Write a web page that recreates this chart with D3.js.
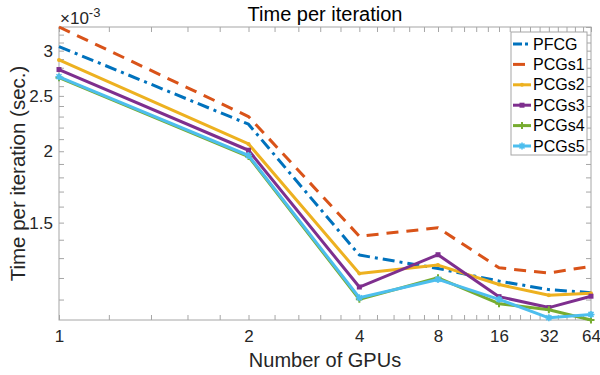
<!DOCTYPE html>
<html>
<head>
<meta charset="utf-8">
<script src="https://cdn.jsdelivr.net/npm/d3@7"></script>
<style>
  body { margin: 0; background: #fff; }
  svg { font-family: "Liberation Sans", Arial, sans-serif; }
  .axis line, .axis path { stroke: #a6a6a6; }
  .axis text { fill: #262626; }
</style>
</head>
<body>
<svg width="600" height="375"></svg>
<script>
// GPU counts (plotted at positions 1..7 on a log axis, as in the original)
var gpus = [1, 2, 4, 8, 16, 32, 64];
var seriesNames = ["PFCG", "PCGs1", "PCGs2", "PCGs3", "PCGs4", "PCGs5"];
// time per iteration, units of 1e-3 s
var pfcg  = [3.05, 2.23, 1.316, 1.247, 1.185, 1.145, 1.131];
var pcgs1 = [3.30, 2.30, 1.420, 1.469, 1.250, 1.224, 1.258];
var pcgs2 = [2.89, 2.06, 1.222, 1.264, 1.169, 1.119, 1.128];
var pcgs3 = [2.78, 2.008, 1.157, 1.318, 1.113, 1.065, 1.115];
var pcgs4 = [2.69, 1.958, 1.101, 1.201, 1.082, 1.056, 1.013];
var pcgs5 = [2.70, 1.966, 1.108, 1.193, 1.101, 1.022, 1.036];
var yTicks = [1.5, 2, 2.5, 3];

var colors = ["#0072BD", "#D95319", "#EDB120", "#7E2F8E", "#77AC30", "#4DBEEE"];
var dashes = ["12,5,3,5", "12,8", null, null, null, null];
var markers = [null, null, "dot", "square", "plus", "star"];
var allSeries = [pfcg, pcgs1, pcgs2, pcgs3, pcgs4, pcgs5];

var margin = { top: 27, right: 9, bottom: 55, left: 59 };
var width = 600 - margin.left - margin.right;
var height = 375 - margin.top - margin.bottom;

var svg = d3.select("svg");
var g = svg.append("g")
    .attr("transform", "translate(" + margin.left + "," + margin.top + ")");

var xScale = d3.scaleLog()
    .domain([1, gpus.length])
    .range([0, width]);

var yScale = d3.scaleLog()
    .domain(d3.extent(d3.merge(allSeries)))
    .range([height, 0]);

// minor ticks every 0.2 on x (position space) and 0.1 on y
var xMinor = d3.range(1, gpus.length + 0.001, 0.2).map(d => +d.toFixed(1));
var yDom = yScale.domain();
var yMinor = d3.range(1.1, 3.35, 0.1).map(d => +d.toFixed(1))
    .filter(d => d >= yDom[0] && d <= yDom[1]);

// axes: bottom / top
g.append("g").attr("class", "axis")
    .attr("transform", "translate(0," + height + ")")
    .call(d3.axisBottom(xScale).tickValues(xMinor).tickSize(-5).tickFormat(""))
    .call(a => a.select(".domain").remove());
g.append("g").attr("class", "axis")
    .call(d3.axisTop(xScale).tickValues(xMinor).tickSize(-5).tickFormat(""))
    .call(a => a.select(".domain").remove());
g.append("g").attr("class", "axis")
    .attr("transform", "translate(0," + height + ")")
    .call(d3.axisBottom(xScale)
        .tickValues(d3.range(1, gpus.length + 1))
        .tickSize(0).tickPadding(10)
        .tickFormat((d, i) => gpus[i]))
    .call(a => a.select(".domain").remove())
    .selectAll("text").style("font-size", "17px");

// axes: left / right
g.append("g").attr("class", "axis")
    .call(d3.axisLeft(yScale).tickValues(yMinor).tickSize(-5).tickFormat(""))
    .call(a => a.select(".domain").remove());
g.append("g").attr("class", "axis")
    .attr("transform", "translate(" + width + ",0)")
    .call(d3.axisRight(yScale).tickValues(yMinor).tickSize(-5).tickFormat(""))
    .call(a => a.select(".domain").remove());
g.append("g").attr("class", "axis")
    .call(d3.axisLeft(yScale).tickValues(yTicks).tickSize(0).tickPadding(6)
        .tickFormat(d => d))
    .call(a => a.select(".domain").remove())
    .selectAll("text").style("font-size", "17px");

// box
g.append("rect")
    .attr("width", width).attr("height", height)
    .attr("fill", "none").attr("stroke", "#a6a6a6");

// lines
var line = d3.line()
    .x((d, i) => xScale(i + 1))
    .y(d => yScale(d));

function drawMarker(sel, type, color) {
    if (type === "dot") {
        sel.append("circle").attr("r", 2).attr("fill", color);
    } else if (type === "square") {
        sel.append("rect").attr("x", -2.5).attr("y", -2.5).attr("width", 5).attr("height", 5).attr("fill", color);
    } else if (type === "plus") {
        sel.append("path").attr("d", "M-3.5,0H3.5M0,-3.5V3.5").attr("stroke", color).attr("stroke-width", 2);
    } else if (type === "star") {
        sel.append("path").attr("d", "M-3.5,0H3.5M0,-3.5V3.5M-2.5,-2.5L2.5,2.5M-2.5,2.5L2.5,-2.5").attr("stroke", color).attr("stroke-width", 1.6);
    }
}

var plot = g.append("g");
allSeries.forEach(function (s, k) {
    plot.append("path")
        .datum(s)
        .attr("fill", "none")
        .attr("stroke", colors[k])
        .attr("stroke-width", 3)
        .attr("stroke-linejoin", "round")
        .attr("stroke-dasharray", dashes[k])
        .attr("d", line);
    if (markers[k]) {
        s.forEach(function (v, i) {
            var m = plot.append("g")
                .attr("transform", "translate(" + xScale(i + 1) + "," + yScale(v) + ")");
            drawMarker(m, markers[k], colors[k]);
        });
    }
});

// title and labels
svg.append("text")
    .attr("x", margin.left + width / 2).attr("y", 21)
    .attr("text-anchor", "middle")
    .style("font-size", "20px").attr("fill", "#000")
    .text("Time per iteration");

svg.append("text")
    .attr("x", margin.left + width / 2).attr("y", 367)
    .attr("text-anchor", "middle")
    .style("font-size", "20px").attr("fill", "#262626")
    .text("Number of GPUs");

svg.append("text")
    .attr("transform", "translate(25," + (margin.top + height / 2) + ") rotate(-90)")
    .attr("text-anchor", "middle")
    .style("font-size", "20.5px").attr("fill", "#262626")
    .text("Time per iteration (sec.)");

var expo = svg.append("text")
    .attr("x", margin.left + 1).attr("y", 24)
    .style("font-size", "17px").attr("fill", "#262626");
expo.append("tspan").text("\u00d710");
expo.append("tspan").attr("dy", -7).style("font-size", "13px").text("-3");

// legend
var legend = svg.append("g").attr("transform", "translate(511,32)");
legend.append("rect")
    .attr("width", 76).attr("height", 123)
    .attr("fill", "#fff").attr("stroke", "#a6a6a6");
seriesNames.forEach(function (name, k) {
    var y = 12 + k * 20.4;
    var row = legend.append("g").attr("transform", "translate(0," + y + ")");
    var x2 = k === 1 ? 14 : 20;
    row.append("line")
        .attr("x1", 2).attr("x2", x2)
        .attr("stroke", colors[k]).attr("stroke-width", 3)
        .attr("stroke-dasharray", k === 0 ? "9,3,3,3" : null);
    if (markers[k]) {
        var m = row.append("g").attr("transform", "translate(11,0)");
        drawMarker(m, markers[k], colors[k]);
    }
    row.append("text")
        .attr("x", 22).attr("y", 5.5)
        .style("font-size", "16px").attr("fill", "#000")
        .text(name);
});
</script>
</body>
</html>
